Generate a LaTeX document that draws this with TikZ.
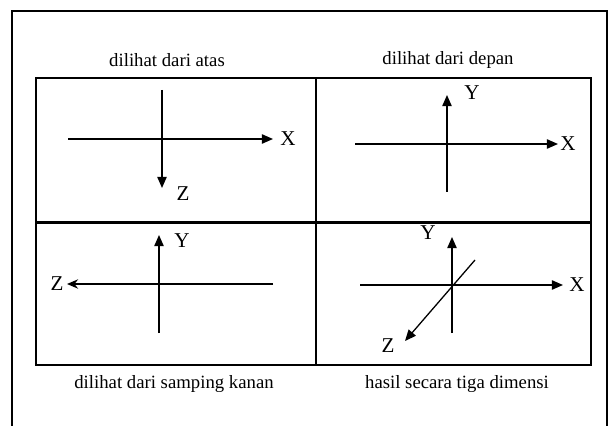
\documentclass[tikz,border=0pt]{standalone}
\usepackage{fontspec}
\setmainfont{Liberation Serif}
\usetikzlibrary{positioning,arrows.meta}

\begin{document}
\begin{tikzpicture}[x=0.03cm, y=-0.03cm,
    panel/.style={rectangle, draw=black, line width=1.3pt, anchor=north west, inner sep=0pt},
    title/.style={font=\fontsize{16}{19}\selectfont},
    axis/.style={line width=1.1pt, -{Triangle[length=9.5pt, width=8pt]}},
    axlabel/.style={font=\fontsize{18}{21}\selectfont, inner sep=1pt}
]
\useasboundingbox (0,0) rectangle (610,426);
\draw[line width=1.5pt] (12,426) -- (12,11) -- (607,11) -- (607,426);

% four views
\node[panel, minimum width=8.4cm, minimum height=4.32cm] (atas) at (35,77) {};
\node[panel, minimum width=8.25cm, minimum height=4.32cm] (depan) at (315,77) {};
\node[panel, minimum width=8.4cm, minimum height=4.29cm] (samping) at (35,221) {};
\node[panel, minimum width=8.25cm, minimum height=4.29cm] (tiga) at (315,221) {};
\draw[line width=2pt] (atas.south west) -- (depan.south east);

\node[title] (tatas) at (167,60) {dilihat dari atas};
\node[title] (tdepan) at (448,60) {dilihat dari depan};
\node[title] (tsamping) at (174,384) {dilihat dari samping kanan};
\node[title] (ttiga) at (457,384) {hasil secara tiga dimensi};

% dilihat dari atas
\coordinate (ax1) at (68,139);
\coordinate (ax2) at (273,139);
\node[axlabel] (xatas) at (288,139) {X};
\draw[axis] (ax1) -- (ax2);
\coordinate (az1) at (162,90);
\coordinate (az2) at (162,188);
\node[axlabel] (zatas) at (183,194) {Z};
\draw[axis] (az1) -- (az2);

% dilihat dari depan
\coordinate (dx1) at (355,144);
\coordinate (dx2) at (558,144);
\node[axlabel] (xdepan) at (568,144) {X};
\draw[axis] (dx1) -- (dx2);
\coordinate (dy1) at (447,192);
\coordinate (dy2) at (447,95);
\node[axlabel] (ydepan) at (472,93) {Y};
\draw[axis] (dy1) -- (dy2);

% dilihat dari samping kanan
\coordinate (sz1) at (273,284);
\coordinate (sz2) at (67,284);
\node[axlabel] (zsamping) at (57,284) {Z};
\draw[line width=1.1pt, -{Stealth[length=9.5pt, width=8pt]}] (sz1) -- (sz2);
\coordinate (sy1) at (159,333);
\coordinate (sy2) at (159,235);
\node[axlabel] (ysamping) at (182,241) {Y};
\draw[axis] (sy1) -- (sy2);

% hasil secara tiga dimensi
\coordinate (tx1) at (360,285);
\coordinate (tx2) at (563,285);
\node[axlabel] (xtiga) at (577,285) {X};
\draw[axis] (tx1) -- (tx2);
\coordinate (ty1) at (452,333);
\coordinate (ty2) at (452,237);
\node[axlabel] (ytiga) at (428,233) {Y};
\draw[axis] (ty1) -- (ty2);
\coordinate (tz1) at (475,260);
\coordinate (tz2) at (405,341);
\node[axlabel] (ztiga) at (388,346) {Z};
\draw[axis] (tz1) -- (tz2);

\end{tikzpicture}
\end{document}
